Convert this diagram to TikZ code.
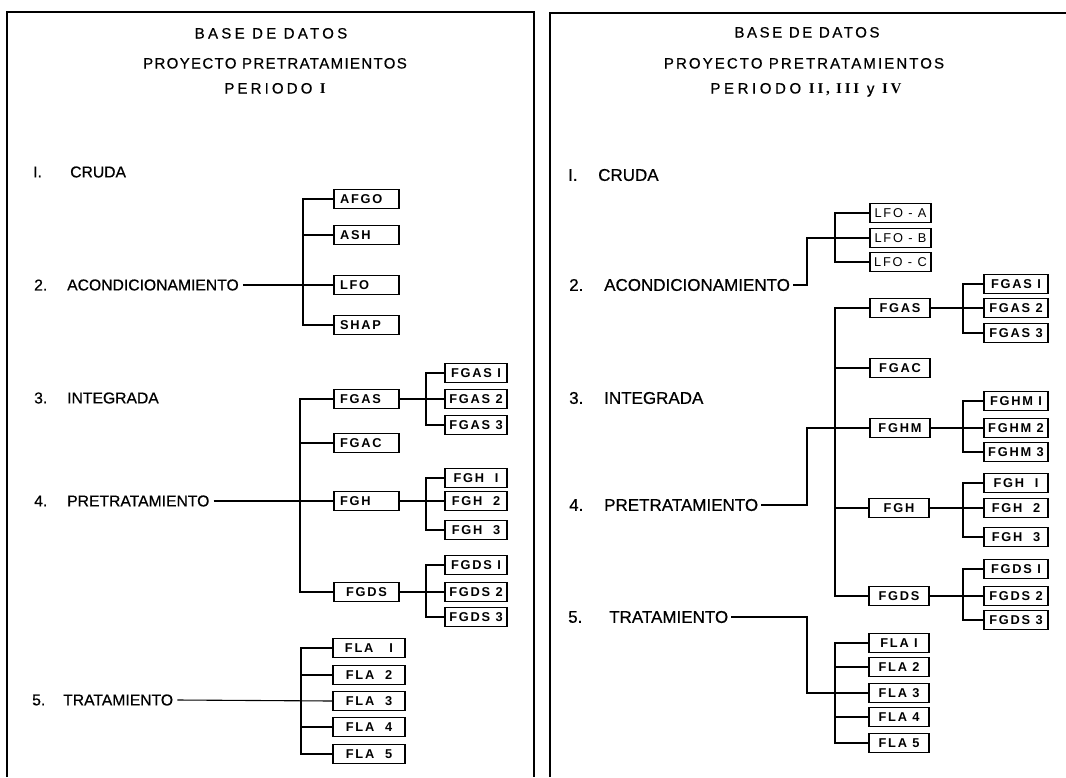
\documentclass[tikz,border=0pt]{standalone}
\usepackage{fontspec}
\setmainfont{Liberation Sans}
\newfontfamily\penfont[FakeBold=0.6]{Liberation Sans}
\newfontfamily\romfont{Liberation Serif}
\newfontfamily\boxfont[LetterSpace=14]{Liberation Sans}
\begin{document}
\begin{tikzpicture}[x=1pt,y=-1pt,
  frame/.style={line width=1.6pt},
  conn/.style={line width=1.1pt},
  heavy/.style={line width=2pt},
  bx/.style={draw, line width=1.4pt, minimum height=19pt, inner sep=0pt,
    font=\boxfont\bfseries\fontsize{12.8}{12.8}\selectfont},
  bxw/.style={bx, minimum width=#1},
  bxl/.style={bx, text width=#1, align=left, inner xsep=6pt},
  lbl/.style={anchor=west, inner sep=0pt, font=\penfont\fontsize{15.7}{16}\selectfont},
  lblr/.style={anchor=west, inner sep=0pt, font=\penfont\fontsize{17}{17}\selectfont},
  ttl/.style={anchor=base, inner sep=0pt, font=\penfont\fontsize{15}{15}\selectfont}]
\fill[white] (0,0) rectangle (1066,777);
\useasboundingbox (0,0) rectangle (1066,777);

% frames
\draw[frame] (7,777) -- (7,12) -- (534,12) -- (534,777);
\draw[frame] (550,777) -- (550,13) -- (1066,13);

% ================= LEFT PANEL =================
\node[ttl] (lt1) at (271,38.5) {\addfontfeatures{LetterSpace=22}BASE DE DATOS};
\node[ttl] (lt2) at (275,68.5) {\addfontfeatures{LetterSpace=9}PROYECTO PRETRATAMIENTOS};
\node[ttl] (lt3) at (275,93.5) {\addfontfeatures{LetterSpace=21}PERIODO {\romfont\bfseries\addfontfeatures{LetterSpace=21}I}};

\node[lbl] (ln1) at (33,172) {I.};
\node[lbl] (lcruda) at (70,172) {CRUDA};
\node[lbl] (ln2) at (34,285) {2.};
\node[lbl] (lacond) at (67,285) {ACONDICIONAMIENTO};
\node[lbl] (ln3) at (34,398) {3.};
\node[lbl] (linteg) at (67,398) {INTEGRADA};
\node[lbl] (ln4) at (34,501) {4.};
\node[lbl] (lpret) at (67,501) {PRETRATAMIENTO};
\node[lbl] (ln5) at (32,700) {5.};
\node[lbl] (ltrat) at (63,700) {TRATAMIENTO};

\node[bxl=53pt] (lafgo) at (366.5,199) {AFGO};
\node[bxl=53pt] (lash)  at (366.5,235) {ASH};
\node[bxl=53pt] (llfo)  at (366.5,285) {LFO};
\node[bxl=53pt] (lshap) at (366.5,325) {SHAP};

\node[bxl=53pt] (lfgas) at (366.5,399) {FGAS};
\node[bxl=53pt] (lfgac) at (366.5,443) {FGAC};
\node[bxl=53pt] (lfgh)  at (366.5,501) {FGH};
\node[bxw=65pt] (lfgds) at (366.5,592) {FGDS};

\node[bxw=62pt] (lfgas1) at (476,373) {FGAS I};
\node[bxw=62pt] (lfgas2) at (476,399) {FGAS 2};
\node[bxw=62pt] (lfgas3) at (476,425) {FGAS 3};
\node[bxw=62pt] (lfgh1) at (476,478) {FGH~~I};
\node[bxw=62pt] (lfgh2) at (476,501) {FGH~~2};
\node[bxw=62pt] (lfgh3) at (476,530) {FGH~~3};
\node[bxw=62pt] (lfgds1) at (476,565) {FGDS I};
\node[bxw=62pt] (lfgds2) at (476,592) {FGDS 2};
\node[bxw=62pt] (lfgds3) at (476,617) {FGDS 3};

\node[bxw=72pt] (lfla1) at (369,648) {FLA~~~I};
\node[bxw=72pt] (lfla2) at (369,675) {FLA~~2};
\node[bxw=72pt] (lfla3) at (369,701) {FLA~~3};
\node[bxw=72pt] (lfla4) at (369,727) {FLA~~4};
\node[bxw=72pt] (lfla5) at (369,754) {FLA~~5};

\coordinate (lbA) at (303,0);
\coordinate (lbM) at (300,0);
\coordinate (lbF) at (301,0);
\coordinate (lbS) at (426,0);

% acondicionamiento
\draw[conn] (lacond.east) ++(4,0) -- (llfo.west);
\draw[conn] (lafgo.west) -- (lafgo.west -| lbA) -- (lshap.west -| lbA) -- (lshap.west);
\draw[conn] (lash.west) -- (lash.west -| lbA);
% integrada / pretratamiento
\draw[conn] (lpret.east) ++(4,0) -- (lfgh.west);
\draw[conn] (lfgas.west) -- (lfgas.west -| lbM) -- (lfgds.west -| lbM) -- (lfgds.west);
\draw[conn] (lfgac.west) -- (lfgac.west -| lbM);
\draw[heavy] (lfgas.east) -- (lfgas2.west);
\draw[conn] (lfgas1.west) -- (lfgas1.west -| lbS) -- (lfgas3.west -| lbS) -- (lfgas3.west);
\draw[conn] (lfgh.east) -- (lfgh2.west);
\draw[conn] (lfgh1.west) -- (lfgh1.west -| lbS) -- (lfgh3.west -| lbS) -- (lfgh3.west);
\draw[heavy] (lfgds.east) -- (lfgds2.west);
\draw[conn] (lfgds1.west) -- (lfgds1.west -| lbS) -- (lfgds3.west -| lbS) -- (lfgds3.west);
% tratamiento
\draw[conn] (ltrat.east) ++(4,0) -- (lfla3.west);
\draw[conn] (lfla1.west) -- (lfla1.west -| lbF) -- (lfla5.west -| lbF) -- (lfla5.west);
\draw[conn] (lfla2.west) -- (lfla2.west -| lbF);
\draw[conn] (lfla4.west) -- (lfla4.west -| lbF);

% ================= RIGHT PANEL =================
\node[ttl] (rt1) at (807,37.5) {\addfontfeatures{LetterSpace=17}BASE DE DATOS};
\node[ttl] (rt2) at (804,68.5) {\addfontfeatures{LetterSpace=14}PROYECTO PRETRATAMIENTOS};
\node[ttl] (rt3) at (806,93.5) {\addfontfeatures{LetterSpace=24}PERIODO {\romfont\bfseries\addfontfeatures{LetterSpace=18}II, III} {\addfontfeatures{LetterSpace=24}y} {\romfont\bfseries\addfontfeatures{LetterSpace=18}IV}};

\node[lblr] (rn1) at (568,175) {I.};
\node[lblr] (rcruda) at (598,175) {CRUDA};
\node[lblr] (rn2) at (569,285) {2.};
\node[lblr] (racond) at (604,285) {ACONDICIONAMIENTO};
\node[lblr] (rn3) at (569,398) {3.};
\node[lblr] (rinteg) at (604,398) {INTEGRADA};
\node[lblr] (rn4) at (569,505) {4.};
\node[lblr] (rpret) at (604,505) {PRETRATAMIENTO};
\node[lblr] (rn5) at (568,617) {5.};
\node[lblr] (rtrat) at (609,617) {TRATAMIENTO};

\node[bxw=61pt, font=\boxfont\fontsize{12.8}{12.8}\selectfont] (rlfoa) at (900.5,213) {LFO - A};
\node[bxw=61pt, font=\boxfont\fontsize{12.8}{12.8}\selectfont] (rlfob) at (900.5,238) {LFO - B};
\node[bxw=61pt, font=\boxfont\fontsize{12.8}{12.8}\selectfont] (rlfoc) at (900.5,262) {LFO - C};

\node[bxw=60pt] (rfgas) at (900,308) {FGAS};
\node[bxw=60pt] (rfgac) at (900,368) {FGAC};
\node[bxw=60pt] (rfghm) at (900,428) {FGHM};
\node[bxw=60pt] (rfgh)  at (899,508) {FGH};
\node[bxw=60pt] (rfgds) at (899,596) {FGDS};

\node[bxw=64pt] (rfgas1) at (1016,284) {FGAS I};
\node[bxw=64pt] (rfgas2) at (1016,308) {FGAS 2};
\node[bxw=64pt] (rfgas3) at (1016,333) {FGAS 3};
\node[bxw=64pt] (rfghm1) at (1016,401) {FGHM I};
\node[bxw=64pt] (rfghm2) at (1016,428) {FGHM 2};
\node[bxw=64pt] (rfghm3) at (1016,452) {FGHM 3};
\node[bxw=64pt] (rfgh1) at (1016,483) {FGH~~I};
\node[bxw=64pt] (rfgh2) at (1016,508) {FGH~~2};
\node[bxw=64pt] (rfgh3) at (1016,537) {FGH~~3};
\node[bxw=64pt] (rfgds1) at (1016,569) {FGDS I};
\node[bxw=64pt] (rfgds2) at (1016,596) {FGDS 2};
\node[bxw=64pt] (rfgds3) at (1016,620) {FGDS 3};

\node[bxw=60pt] (rfla1) at (899,643) {FLA I};
\node[bxw=60pt] (rfla2) at (899,667) {FLA 2};
\node[bxw=60pt] (rfla3) at (899,693) {FLA 3};
\node[bxw=60pt] (rfla4) at (899,717) {FLA 4};
\node[bxw=60pt] (rfla5) at (899,743) {FLA 5};

\coordinate (rek) at (807,0);
\coordinate (rbM) at (835,0);
\coordinate (rbS) at (963,0);

% acondicionamiento
\draw[conn] (racond.east) ++(3,0) -- (racond.east -| rek) -- (rlfob.west -| rek) -- (rlfob.west);
\draw[conn] (rlfoa.west) -- (rlfoa.west -| rbM) -- (rlfoc.west -| rbM) -- (rlfoc.west);
% pretratamiento
\draw[conn] (rpret.east) ++(3,0) -- (rpret.east -| rek) -- (rfghm.west -| rek) -- (rfghm.west);
\draw[conn] (rfgas.west) -- (rfgas.west -| rbM) -- (rfgds.west -| rbM) -- (rfgds.west);
\draw[conn] (rfgac.west) -- (rfgac.west -| rbM);
\draw[conn] (rfgh.west) -- (rfgh.west -| rbM);
\draw[conn] (rfgas.east) -- (rfgas2.west);
\draw[conn] (rfgas1.west) -- (rfgas1.west -| rbS) -- (rfgas3.west -| rbS) -- (rfgas3.west);
\draw[heavy] (rfghm.east) -- (rfghm2.west);
\draw[conn] (rfghm1.west) -- (rfghm1.west -| rbS) -- (rfghm3.west -| rbS) -- (rfghm3.west);
\draw[conn] (rfgh.east) -- (rfgh2.west);
\draw[conn] (rfgh1.west) -- (rfgh1.west -| rbS) -- (rfgh3.west -| rbS) -- (rfgh3.west);
\draw[conn] (rfgds.east) -- (rfgds2.west);
\draw[conn] (rfgds1.west) -- (rfgds1.west -| rbS) -- (rfgds3.west -| rbS) -- (rfgds3.west);
% tratamiento
\draw[conn] (rtrat.east) ++(3,0) -- (rtrat.east -| rek) -- (rfla3.west -| rek) -- (rfla3.west);
\draw[conn] (rfla1.west) -- (rfla1.west -| rbM) -- (rfla5.west -| rbM) -- (rfla5.west);
\draw[conn] (rfla2.west) -- (rfla2.west -| rbM);
\draw[conn] (rfla4.west) -- (rfla4.west -| rbM);
\end{tikzpicture}
\end{document}
